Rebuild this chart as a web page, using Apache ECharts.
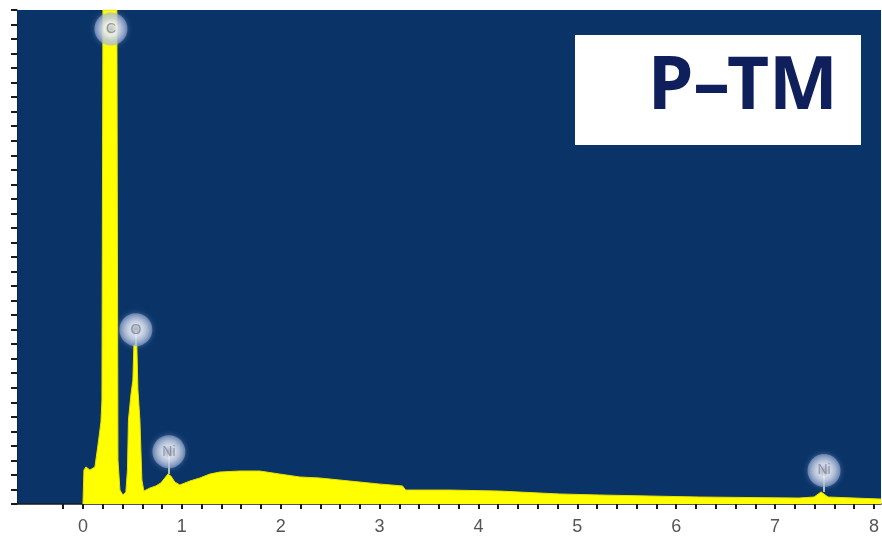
<!DOCTYPE html>
<html>
<head>
<meta charset="utf-8">
<script src="https://cdn.jsdelivr.net/npm/echarts@6/dist/echarts.min.js"></script>
<style>
html,body{margin:0;padding:0;background:#ffffff;}
#chart{width:882px;height:545px;}
</style>
</head>
<body>
<div id="chart"></div>
<script>
// Spectrum: energy (keV) and counts (arbitrary units)
const energy = [0.000,0.010,0.030,0.071,0.121,0.152,0.182,0.192,0.202,0.343,0.354,0.374,0.404,0.434,0.450,0.460,0.485,0.505,0.515,0.545,0.556,0.576,0.596,0.616,0.677,0.737,0.788,0.828,0.859,0.889,0.929,0.980,1.081,1.182,1.283,1.384,1.586,1.788,1.990,2.192,2.394,2.697,2.990,3.232,3.263,3.707,4.212,4.818,5.222,6.232,7.242,7.394,7.465,7.535,8.071];
const counts = [0,23.4,25.5,23.4,25.5,40.6,56.4,71.6,340,340,30.3,9.6,6.2,8.3,23.4,57.8,75,85.3,109.4,109.4,78.5,57.8,16.5,8.9,11,12.4,14.5,17.9,20.6,19.3,15.1,13.1,15.8,17.9,20.6,22,22.7,22.7,20.6,18.6,17.9,15.8,13.8,12.4,9.6,9.6,8.9,6.9,6.2,4.8,4.1,4.8,8.3,4.8,3.4];

// Element peak labels
const peakNames = ['C','O','Ni','Ni'];
const peakEnergy = [0.283, 0.535, 0.869, 7.495];
const peakTop = [330, 109.4, 20.6, 8.3];
const labelHeight = [327, 120, 36, 23];

// Axis ticks
const xLabelValues = [0,1,2,3,4,5,6,7,8];
const xTickValues = [];
for (let i = -1; i <= 40; i++) xTickValues.push(+(i*0.2).toFixed(1));

const spectrum = energy.map((e,i)=>[e,counts[i]]);
const labels = peakEnergy.map((e,i)=>({value:[e,labelHeight[i]], name:peakNames[i]}));
const stems = peakEnergy.map((e,i)=>({coords:[[e,peakTop[i]],[e,labelHeight[i]]]}));

const chart = echarts.init(document.getElementById('chart'), null, {renderer:'canvas'});
chart.setOption({
  animation:false,
  backgroundColor:'#ffffff',
  grid:{left:17,right:0,top:10,bottom:41,show:true,backgroundColor:'#0a3468',borderWidth:0},
  xAxis:{
    type:'value',min:-0.667,max:8.071,
    axisLine:{show:true,onZero:false,lineStyle:{color:'#1a1a1a',width:1.5}},
    axisTick:{show:true,customValues:xTickValues,length:5,lineStyle:{color:'#1a1a1a',width:2}},
    axisLabel:{show:true,customValues:xLabelValues,color:'#555555',fontSize:18,margin:14,fontFamily:'Liberation Sans'},
    splitLine:{show:false}
  },
  yAxis:{
    type:'value',min:0,max:340,interval:10,
    axisLine:{show:true,onZero:false,lineStyle:{color:'#0a2a50',width:1}},
    axisTick:{show:true,length:6,lineStyle:{color:'#1a1a1a',width:2}},
    axisLabel:{show:false},
    splitLine:{show:false}
  },
  series:[
    {
      type:'line',data:spectrum,showSymbol:false,smooth:false,
      lineStyle:{color:'#e8e000',width:1},
      areaStyle:{color:'#ffff00',opacity:1},
      z:2
    },
    {
      type:'lines',coordinateSystem:'cartesian2d',data:stems,
      lineStyle:{color:'#e6ecc8',width:1.5,opacity:1},
      z:3
    },
    {
      type:'scatter',data:labels,symbol:'circle',symbolSize:33,
      itemStyle:{
        color:{type:'radial',x:0.5,y:0.5,r:0.5,colorStops:[
          {offset:0,color:'#b4b9c9'},{offset:0.38,color:'#eef0f6'},{offset:0.62,color:'#c6d0e4'},{offset:1,color:'rgba(150,170,212,0.7)'}]},
        shadowBlur:5,shadowColor:'rgba(200,212,240,0.6)'
      },
      label:{show:true,position:'inside',formatter:p=>p.name,color:'#7f8598',fontSize:14,fontFamily:'Liberation Sans'},
      z:4
    }
  ],
  graphic:[
    {type:'rect',left:575,top:35,shape:{width:286,height:110},style:{fill:'#ffffff'},z:10},
    {type:'text',left:648,top:52,style:{text:'P–TM',fill:'#0e1f5b',font:'bold 73px "Noto Sans"'},z:11}
  ]
});
</script>
</body>
</html>
